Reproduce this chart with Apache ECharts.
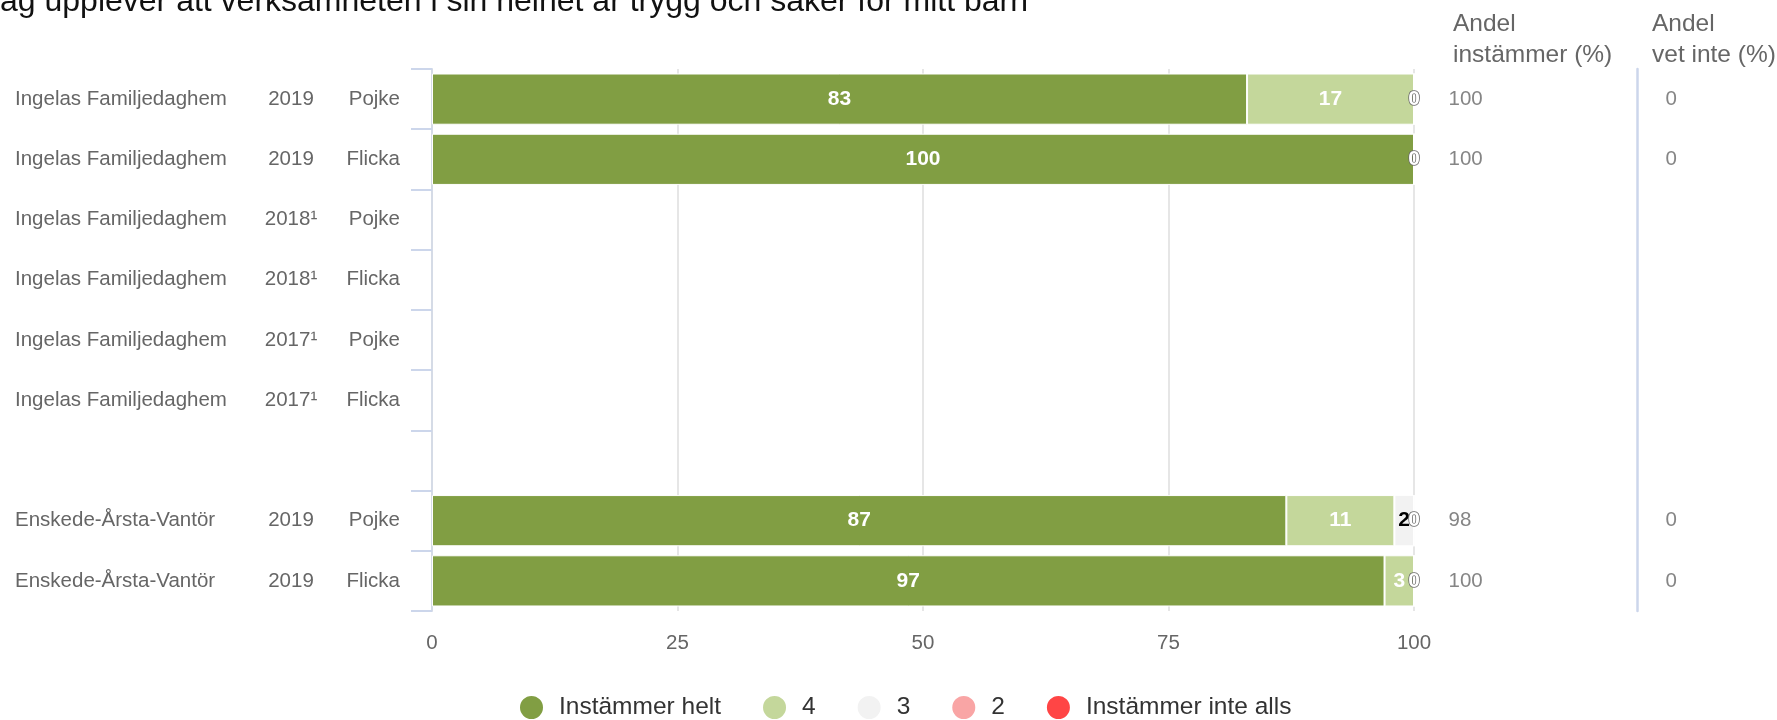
<!DOCTYPE html>
<html>
<head>
  <meta charset="utf-8">
  <title>Trygg och säker</title>
  <script src="https://cdn.jsdelivr.net/npm/echarts@6.0.0/dist/echarts.min.js"></script>
  <style type="text/css">
    body {
      margin: 0;
    }

    #chart {
      width: 1777px;
      height: 720px;
    }
  </style>
</head>
<body>
<div id="chart"></div>
<script>
  // rader (tom rad mellan enheten och kommunen)
  var units = ['Ingelas Familjedaghem', 'Ingelas Familjedaghem', 'Ingelas Familjedaghem', 'Ingelas Familjedaghem',
    'Ingelas Familjedaghem', 'Ingelas Familjedaghem', '', 'Enskede-Årsta-Vantör', 'Enskede-Årsta-Vantör'];
  var years = ['2019', '2019', '2018¹', '2018¹', '2017¹', '2017¹', '', '2019', '2019'];
  var genders = ['Pojke', 'Flicka', 'Pojke', 'Flicka', 'Pojke', 'Flicka', '', 'Pojke', 'Flicka'];

  // andelar per svarsalternativ
  var seriesNames = ['Instämmer helt', '4', '3', '2', 'Instämmer inte alls'];
  var helt = [83, 100, '-', '-', '-', '-', '-', 87, 97];
  var fyra = [17, 0, '-', '-', '-', '-', '-', 11, 3];
  var tre = [0, 0, '-', '-', '-', '-', '-', 2, 0];
  var tva = [0, 0, '-', '-', '-', '-', '-', 0, 0];
  var inteAlls = [0, 0, '-', '-', '-', '-', '-', 0, 0];

  // högra kolumnerna
  var andelInstammer = [100, 100, null, null, null, null, null, 98, 100];
  var andelVetInte = [0, 0, null, null, null, null, null, 0, 0];

  var xTicks = [0, 25, 50, 75, 100];

  var colors = ['#819e43', '#c4d79b', '#f2f2f2', '#f9a5a5', '#ff4545'];
  var labelColors = ['#fff', '#fff', '#000', '#000', '#fff'];
  var font = "'Liberation Sans', Arial, sans-serif";

  var cats = units.map(function (u, i) {
    return i + '';
  });

  function barSeries(name, data, idx) {
    var last = idx === seriesNames.length - 1;
    return {
      name: name,
      type: 'bar',
      stack: 'svar',
      barCategoryGap: '15%',
      data: data,
      itemStyle: {color: colors[idx], borderColor: '#fff', borderWidth: 1},
      label: {
        show: true,
        position: 'inside',
        fontFamily: font,
        fontSize: 21,
        fontWeight: 'bold',
        color: labelColors[idx],
        formatter: function (p) {
          if (p.value === 0) {
            return last ? '{z|0}' : '';
          }
          return p.value;
        },
        rich: {
          z: {
            fontFamily: font,
            fontSize: 21,
            fontWeight: 'bold',
            color: '#fff',
            textBorderColor: '#666',
            textBorderWidth: 1.5
          }
        }
      },
      emphasis: {disabled: true}
    };
  }

  function columnSeries(values, gridIdx, dist) {
    var data = [];
    for (var i = 0; i < values.length; i++) {
      if (values[i] !== null) {
        data.push([0, i, values[i]]);
      }
    }
    return {
      type: 'scatter',
      xAxisIndex: gridIdx,
      yAxisIndex: gridIdx,
      symbolSize: 1,
      silent: true,
      itemStyle: {color: 'rgba(0,0,0,0)'},
      data: data,
      label: {
        show: true,
        position: 'right',
        distance: dist,
        fontFamily: font,
        fontSize: 20.5,
        color: '#666',
        formatter: function (p) {
          return p.value[2];
        }
      }
    };
  }

  var chart = echarts.init(document.getElementById('chart'));

  var option = {
    animation: false,
    color: colors,
    title: {
      text: 'Jag upplever att verksamheten i sin helhet är trygg och säker för mitt barn',
      left: -16,
      top: -14,
      padding: 0,
      textStyle: {fontFamily: font, fontSize: 32, fontWeight: 'normal', color: '#111'}
    },
    legend: {
      data: seriesNames,
      left: 518,
      top: 694,
      padding: 0,
      icon: 'circle',
      itemWidth: 45,
      itemHeight: 25,
      itemGap: 40,
      selectedMode: false,
      textStyle: {fontFamily: font, fontSize: 24.5, color: '#333'}
    },
    graphic: [
      {
        type: 'text', left: 1453, top: 9,
        style: {text: 'Andel\ninstämmer (%)', font: '24.5px ' + font, lineHeight: 31, fill: '#666'}
      },
      {
        type: 'text', left: 1652, top: 9,
        style: {text: 'Andel\nvet inte (%)', font: '24.5px ' + font, lineHeight: 31, fill: '#666'}
      }
    ],
    grid: [
      {left: 432, right: 363, top: 69, bottom: 109},
      {left: 1440, width: 190, top: 69, bottom: 109},
      {left: 1637, width: 130, top: 69, bottom: 109}
    ],
    xAxis: [
      {
        type: 'value',
        min: xTicks[0],
        max: xTicks[xTicks.length - 1],
        interval: xTicks[1] - xTicks[0],
        axisLine: {show: false},
        axisTick: {show: false},
        splitLine: {lineStyle: {color: '#e6e6e6', width: 2}},
        axisLabel: {fontFamily: font, fontSize: 20.5, color: '#666', margin: 22}
      },
      {gridIndex: 1, type: 'value', min: 0, max: 1, show: false},
      {gridIndex: 2, type: 'value', min: 0, max: 1, show: false}
    ],
    yAxis: [
      {
        type: 'category',
        data: cats,
        inverse: true,
        axisLine: {show: true, lineStyle: {color: '#d5dbe6', width: 2}},
        axisTick: {show: true, alignWithLabel: false, length: 21, lineStyle: {color: '#ccd6eb', width: 2}},
        axisLabel: {
          margin: 32,
          fontFamily: font,
          fontSize: 20,
          color: '#666',
          formatter: function (v, i) {
            if (!units[i]) {
              return '';
            }
            return '{n|' + units[i] + '}{y|' + years[i] + '}{g|' + genders[i] + '}';
          },
          rich: {
            n: {width: 246, align: 'left', fontFamily: font, fontSize: 20.5, color: '#666'},
            y: {width: 60, align: 'center', fontFamily: font, fontSize: 20.5, color: '#666'},
            g: {width: 79, align: 'right', fontFamily: font, fontSize: 20.5, color: '#666'}
          }
        }
      },
      {gridIndex: 1, type: 'category', data: cats, inverse: true, show: false},
      {
        gridIndex: 2,
        type: 'category',
        data: cats,
        inverse: true,
        axisLine: {show: true, lineStyle: {color: '#ccd6eb', width: 2.5}},
        axisTick: {show: false},
        axisLabel: {show: false}
      }
    ],
    series: [
      barSeries(seriesNames[0], helt, 0),
      barSeries(seriesNames[1], fyra, 1),
      barSeries(seriesNames[2], tre, 2),
      barSeries(seriesNames[3], tva, 3),
      barSeries(seriesNames[4], inteAlls, 4),
      columnSeries(andelInstammer, 1, 8),
      columnSeries(andelVetInte, 2, 28)
    ]
  };

  chart.setOption(option);
</script>
</body>
</html>
